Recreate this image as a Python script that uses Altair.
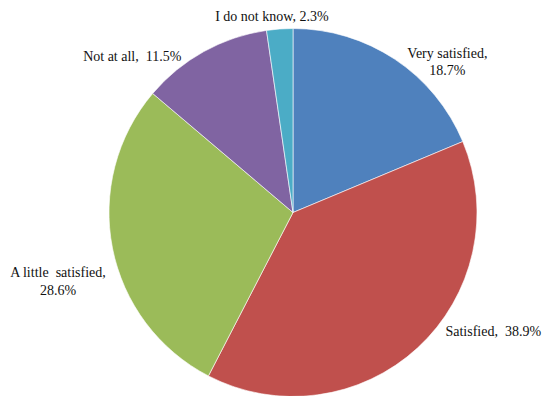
import math
import altair as alt
import pandas as pd

categories = ["Very satisfied", "Satisfied", "A little satisfied", "Not at all", "I do not know"]
values = [18.7, 38.9, 28.6, 11.5, 2.3]
labels = [
    "Very satisfied,\n18.7%",
    "Satisfied,\u00a0 38.9%",
    "A little \u00a0satisfied,\n28.6%",
    "Not at all,\u00a0 11.5%",
    "I do not know, 2.3%",
]
colors = ["#4F81BD", "#C0504D", "#9BBB59", "#8064A2", "#4BACC6"]

df = pd.DataFrame({
    "category": categories,
    "value": values,
    "label": labels,
    "order": list(range(len(categories))),
})

CX, CY, R = 285, 204.5, 184
theta_scale = alt.Scale(domain=[0, 100], range=[0, 2 * math.pi])

base = (
    alt.Chart(df)
    .transform_window(cum="sum(value)", sort=[alt.SortField("order")], frame=[None, 0])
    .transform_calculate(start="datum.cum - datum.value", mid="datum.cum - datum.value / 2")
)

arcs = base.mark_arc(x=CX, y=CY, outerRadius=R, stroke="white", strokeWidth=0.6).encode(
    theta=alt.Theta("start:Q", scale=theta_scale),
    theta2="cum:Q",
    color=alt.Color("category:N", scale=alt.Scale(domain=categories, range=colors), legend=None),
)

offsets = {
    "Very satisfied": (38, 16),
    "Satisfied": (58, -35),
    "A little satisfied": (-29, 20),
    "Not at all": (-59, 28),
    "I do not know": (-6, 14),
}

layers = [arcs]
for cat in categories:
    dx, dy = offsets[cat]
    t = base.transform_filter(alt.datum.category == cat).mark_text(
        x=CX, y=CY, radius=210, dx=dx, dy=dy,
        font="Liberation Serif", fontSize=14, color="#111111",
        align="center", baseline="middle", lineBreak="\n", lineHeight=17.5,
    ).encode(
        theta=alt.Theta("mid:Q", scale=theta_scale),
        text="label:N",
    )
    layers.append(t)

chart = (
    alt.layer(*layers)
    .properties(width=534, height=388, padding=0, autosize=alt.AutoSizeParams(type="none"))
    .configure_view(stroke=None)
)

chart.save("out.html", embed_options={"renderer": "svg", "actions": False})
